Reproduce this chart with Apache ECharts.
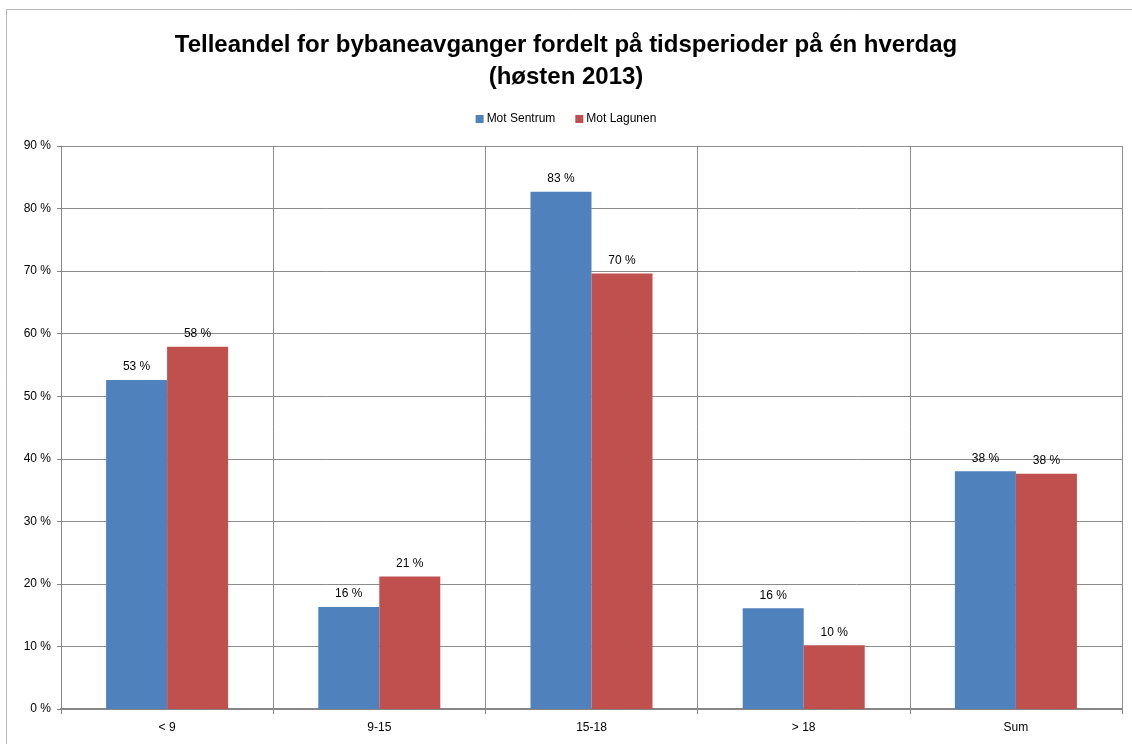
<!DOCTYPE html>
<html>
<head>
<meta charset="utf-8">
<script src="https://cdn.jsdelivr.net/npm/echarts@6/dist/echarts.min.js"></script>
<style>
  html, body { margin: 0; padding: 0; background: #fff; }
  #chart { width: 1132px; height: 744px; }
</style>
</head>
<body>
<div id="chart"></div>
<script>
// tidsperioder
var categories = ['< 9', '9-15', '15-18', '> 18', 'Sum'];
var motSentrum = [52.6, 16.3, 82.7, 16.1, 38.0];
var motLagunen = [57.9, 21.2, 69.6, 10.2, 37.6];
var seriesNames = ['Mot Sentrum', 'Mot Lagunen'];

var chart = echarts.init(document.getElementById('chart'));

var labelOpt = {
  show: true,
  position: 'top',
  distance: 7,
  color: '#000',
  fontSize: 12,
  formatter: function (p) { return Math.round(p.value) + ' %'; }
};

chart.setOption({
  animation: false,
  textStyle: { fontFamily: 'Liberation Sans, Arial, sans-serif' },
  title: {
    text: 'Telleandel for bybaneavganger fordelt på tidsperioder på én hverdag\n(høsten 2013)',
    left: 'center',
    top: 24,
    textStyle: {
      fontWeight: 'bold',
      fontSize: 24,
      lineHeight: 32,
      color: '#000'
    }
  },
  legend: {
    top: 108,
    left: 'center',
    itemWidth: 8,
    itemHeight: 8,
    itemGap: 20,
    icon: 'rect',
    textStyle: { fontSize: 12, color: '#000', padding: [0, 0, 0, -2] },
    data: seriesNames
  },
  graphic: [{
    type: 'rect',
    shape: { x: 6.5, y: 9.5, width: 1200, height: 800 },
    style: { fill: 'none', stroke: '#b8b8b8', lineWidth: 1 },
    silent: true
  }],
  grid: { left: 61, right: 10, top: 146, bottom: 35 },
  xAxis: {
    type: 'category',
    data: categories,
    axisLine: { lineStyle: { color: '#868686', width: 2 } },
    axisTick: { show: true, length: 5, lineStyle: { color: '#868686' } },
    splitLine: { show: true, lineStyle: { color: '#8c8c8c', width: 1 } },
    axisLabel: { color: '#000', fontSize: 12, margin: 13 }
  },
  yAxis: {
    type: 'value',
    min: 0,
    max: 90,
    interval: 10,
    axisLine: { show: true, lineStyle: { color: '#868686' } },
    axisTick: { show: true, length: 4, lineStyle: { color: '#868686' } },
    splitLine: { show: true, lineStyle: { color: '#8c8c8c', width: 1 } },
    axisLabel: { color: '#000', fontSize: 12, margin: 10, formatter: '{value} %' }
  },
  series: [
    {
      name: seriesNames[0],
      type: 'bar',
      data: motSentrum,
      barWidth: 61,
      barGap: '0%',
      itemStyle: { color: '#4F81BD' },
      label: labelOpt
    },
    {
      name: seriesNames[1],
      type: 'bar',
      data: motLagunen,
      barWidth: 61,
      itemStyle: { color: '#C0504D' },
      label: labelOpt
    }
  ]
});
</script>
</body>
</html>
